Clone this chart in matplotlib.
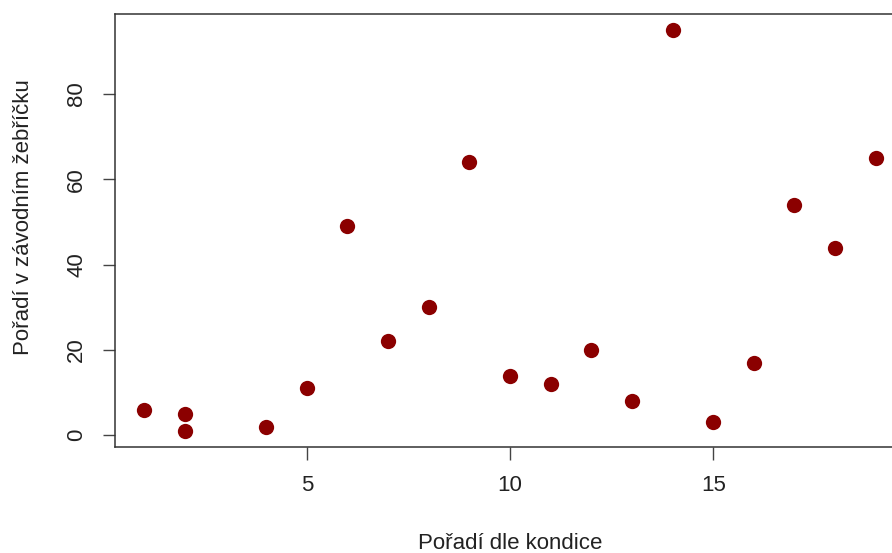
import matplotlib.pyplot as plt

plt.rcParams['font.family'] = ['Liberation Sans', 'DejaVu Sans']

# pořadí dle kondice vs. pořadí v závodním žebříčku
kondice = [1, 2, 2, 4, 5, 6, 7, 8, 9, 10, 11, 12, 13, 14, 15, 16, 17, 18, 19]
zebricek = [6, 5, 1, 2, 11, 49, 22, 30, 64, 14, 12, 20, 8, 95, 3, 17, 54, 44, 65]
xticks = [5, 10, 15]
yticks = [0, 20, 40, 60, 80]

fig = plt.figure(figsize=(8.92, 5.53), dpi=100)
ax = fig.add_axes([0.1289, 0.1917, 0.8857, 0.783])
ax.scatter(kondice, zebricek, s=121, color='#8B0000', linewidths=0, zorder=3)

# R-like padding of 4 % on both axes
xr = max(kondice) - min(kondice)
yr = max(zebricek) - min(zebricek)
ax.set_xlim(min(kondice) - 0.04 * xr, max(kondice) + 0.04 * xr)
ax.set_ylim(min(zebricek) - 0.04 * yr, max(zebricek) + 0.04 * yr)

ax.set_xticks(xticks)
ax.set_yticks(yticks)
ax.tick_params(length=9, width=1, color='#444444', labelsize=16, pad=11, labelcolor='#222222')
ax.tick_params(axis='y', labelrotation=90)
for lab in ax.get_yticklabels():
    lab.set_va('center')
for sp in ax.spines.values():
    sp.set_linewidth(1.1)
    sp.set_color('#333333')

ax.set_xlabel('Pořadí dle kondice', fontsize=16, color='#222222')
ax.set_ylabel('Pořadí v závodním žebříčku', fontsize=16, color='#222222')
ax.xaxis.set_label_coords(0.5, -0.198)
ax.yaxis.set_label_coords(-0.103, 0.53)

fig.savefig('out.png', dpi=100)
